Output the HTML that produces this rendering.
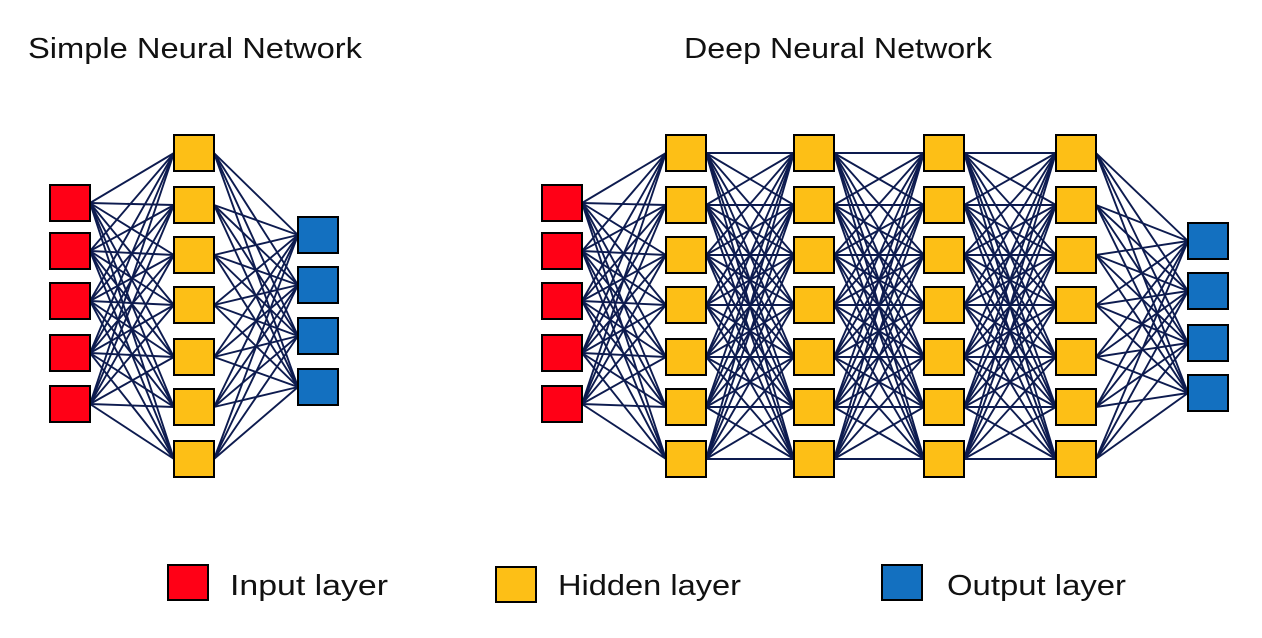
<!DOCTYPE html>
<html><head><meta charset="utf-8"><style>
html,body{margin:0;padding:0;background:#fff;}
svg{display:block;}
text{font-family:"Liberation Sans",sans-serif;fill:#111;}
</style></head><body>
<svg id="s" width="1262" height="638" xmlns="http://www.w3.org/2000/svg">
<text x="28" y="58" font-size="29" textLength="334" lengthAdjust="spacingAndGlyphs">Simple Neural Network</text>
<text x="684" y="58" font-size="29" textLength="308" lengthAdjust="spacingAndGlyphs">Deep Neural Network</text>
<g id="lines" stroke="#0d1b4f" stroke-width="1.9"></g>
<g id="nodes" stroke="#000" stroke-width="2"></g>
<rect x="168" y="565" width="40" height="35" fill="#ff0016" stroke="#000" stroke-width="2"/>
<text x="230" y="595" font-size="29" textLength="158" lengthAdjust="spacingAndGlyphs">Input layer</text>
<rect x="496" y="567" width="40" height="35" fill="#fdbf16" stroke="#000" stroke-width="2"/>
<text x="558" y="595" font-size="29" textLength="183" lengthAdjust="spacingAndGlyphs">Hidden layer</text>
<rect x="882" y="565" width="40" height="35" fill="#1370c0" stroke="#000" stroke-width="2"/>
<text x="947" y="595" font-size="29" textLength="179" lengthAdjust="spacingAndGlyphs">Output layer</text>
</svg>
<script>
var R='#ff0016',Y='#fdbf16',B='#1370c0';
var inY=[185,233,283,335,386],hY=[135,187,237,287,339,389,441],oY=[217,267,318,369];
var doY=[223,273,325,375];
function net(layers){
  var L=document.getElementById('lines'),N=document.getElementById('nodes'),ns='http://www.w3.org/2000/svg';
  for(var i=0;i<layers.length-1;i++){
    var a=layers[i],b=layers[i+1];
    a.ys.forEach(function(y1){b.ys.forEach(function(y2){
      var l=document.createElementNS(ns,'line');
      l.setAttribute('x1',a.x+40);l.setAttribute('y1',y1+18);
      l.setAttribute('x2',b.x);l.setAttribute('y2',y2+18);L.appendChild(l);});});
  }
  layers.forEach(function(c){c.ys.forEach(function(y){
    var r=document.createElementNS(ns,'rect');
    r.setAttribute('x',c.x);r.setAttribute('y',y);r.setAttribute('width',40);r.setAttribute('height',36);
    r.setAttribute('fill',c.f);N.appendChild(r);});});
}
net([{x:50,ys:inY,f:R},{x:174,ys:hY,f:Y},{x:298,ys:oY,f:B}]);
net([{x:542,ys:inY,f:R},{x:666,ys:hY,f:Y},{x:794,ys:hY,f:Y},{x:924,ys:hY,f:Y},{x:1056,ys:hY,f:Y},{x:1188,ys:doY,f:B}]);
</script>
</body></html>
